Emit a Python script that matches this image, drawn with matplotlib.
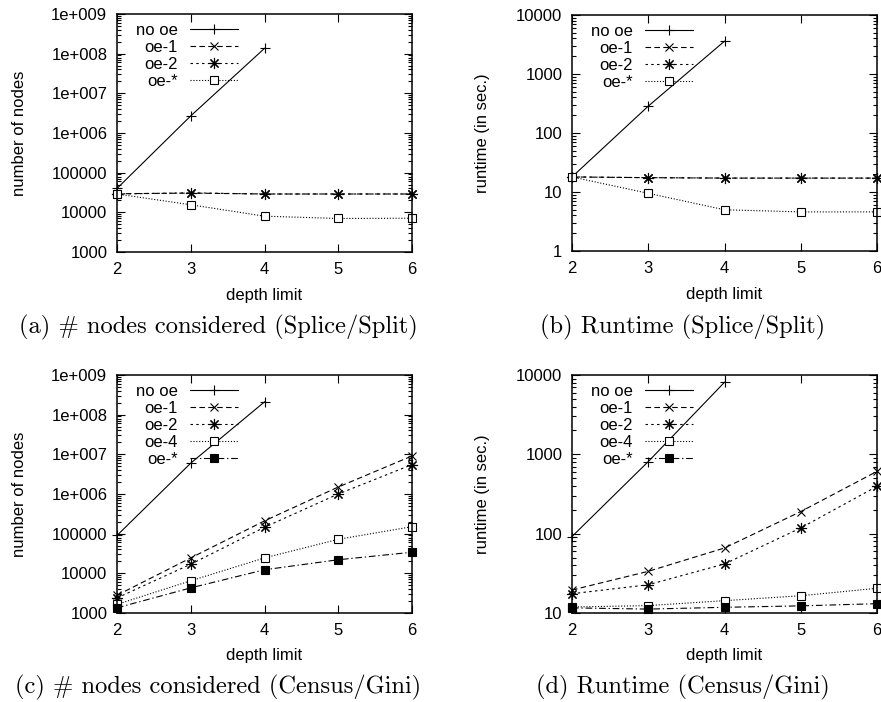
import matplotlib
matplotlib.use("Agg")
import matplotlib.pyplot as plt
from matplotlib.ticker import FixedLocator, FixedFormatter, LogLocator, NullFormatter

plt.rcParams['font.family'] = ['Liberation Sans', 'DejaVu Sans']
plt.rcParams['font.size'] = 12

depth = [2, 3, 4, 5, 6]

# (a) number of nodes, Splice/Split
a_no_oe = [40000, 2.7e6, 1.36e8]
a_oe1 = [29500, 30500, 29000, 29000, 29000]
a_oe2 = [29000, 31000, 29000, 29000, 29000]
a_oestar = [29000, 15500, 8000, 7000, 7100]

# (b) runtime, Splice/Split
b_no_oe = [18, 285, 3600]
b_oe1 = [18, 17.5, 17.2, 17.2, 17.2]
b_oe2 = [18, 17.5, 17.2, 17.2, 17.2]
b_oestar = [18, 9.5, 5.0, 4.6, 4.6]

# (c) number of nodes, Census/Gini
c_no_oe = [90000, 6.0e6, 2.1e8]
c_oe1 = [2800, 24500, 2.1e5, 1.5e6, 9.1e6]
c_oe2 = [2400, 17000, 1.45e5, 1.0e6, 5.5e6]
c_oe4 = [1650, 6500, 24500, 72000, 150000]
c_oestar = [1350, 4300, 12300, 22000, 34000]

# (d) runtime, Census/Gini
d_no_oe = [92, 810, 8100]
d_oe1 = [19.5, 33.5, 66, 190, 610]
d_oe2 = [17.5, 22.7, 41.5, 118, 395]
d_oe4 = [11.9, 12.4, 14.3, 16.5, 20.5]
d_oestar = [11.6, 11.2, 11.8, 12.3, 13.1]

captions = ["(a) # nodes considered (Splice/Split)",
            "(b) Runtime (Splice/Split)",
            "(c) # nodes considered (Census/Gini)",
            "(d) Runtime (Census/Gini)"]

nodes_ticks = [1e3, 1e4, 1e5, 1e6, 1e7, 1e8, 1e9]
nodes_labels = ["1000", "10000", "100000", "1e+006", "1e+007", "1e+008", "1e+009"]
rt_ticks_b = [1, 10, 100, 1000, 10000]
rt_labels_b = ["1", "10", "100", "1000", "10000"]
rt_ticks_d = [10, 100, 1000, 10000]
rt_labels_d = ["10", "100", "1000", "10000"]

W, H = 881, 702
fig = plt.figure(figsize=(W / 100, H / 100), dpi=100)


def make_ax(left, right, top, bottom):
    return fig.add_axes([left / W, (H - bottom) / H, (right - left) / W, (bottom - top) / H])


lw = 0.8
black = 'black'
ls_oe1 = (0, (5, 3))
ls_oe2 = (0, (2.2, 3))
ls_dot = (0, (1, 1.6))
ls_dashdot = (0, (6, 2.5, 1.2, 2.5))
star = (8, 2, 0)

common = dict(color=black, lw=lw, clip_on=False, mew=0.8)


def style(ax, ticks, labels, ylim, ylabel, ylx, xly, caption, capx, capy, legx):
    ax.set_yscale('log')
    ax.set_xlim(2, 6)
    ax.set_ylim(*ylim)
    ax.set_xticks(depth)
    ax.set_xticklabels([str(d) for d in depth])
    ax.yaxis.set_major_locator(FixedLocator(ticks))
    ax.yaxis.set_major_formatter(FixedFormatter(labels))
    ax.yaxis.set_minor_locator(LogLocator(base=10, subs=range(2, 10), numticks=20))
    ax.yaxis.set_minor_formatter(NullFormatter())
    ax.tick_params(which='both', direction='in', top=True, right=True, width=0.8)
    ax.tick_params(which='major', length=6, pad=7)
    ax.tick_params(which='minor', length=3)
    for s in ax.spines.values():
        s.set_linewidth(1.1)
    ax.set_xlabel('depth limit')
    ax.xaxis.label.set_va('center')
    ax.xaxis.set_label_coords(0.5, xly)
    ax.set_ylabel(ylabel)
    ax.yaxis.label.set_va('center')
    ax.yaxis.set_label_coords(ylx, 0.5)
    ax.legend(loc='upper right', bbox_to_anchor=(legx, 0.962), frameon=False,
              markerfirst=False, numpoints=1, handlelength=2.9, handletextpad=0.72,
              labelspacing=0.12, borderpad=0, borderaxespad=0, fontsize=12)
    fig.text(capx / W, 1 - capy / H, caption, family='cmr10', fontsize=17.6,
             ha='center', va='center')


# (a)
ax = make_ax(117, 412, 14, 252)
ax.plot(depth[:3], a_no_oe, ls='-', marker='+', ms=7, label='no oe', **common)
ax.plot(depth, a_oe1, ls=ls_oe1, marker='x', ms=6, label='oe-1', **common)
ax.plot(depth, a_oe2, ls=ls_oe2, marker=star, ms=8, label='oe-2', **common)
ax.plot(depth, a_oestar, ls=ls_dot, marker='s', ms=6, mfc='white', label='oe-*', **common)
style(ax, nodes_ticks, nodes_labels, (1e3, 1e9), 'number of nodes', -0.332, -0.184,
      captions[0], 218, 327, 0.41)

# (b)
ax = make_ax(572, 877, 15, 251)
ax.plot(depth[:3], b_no_oe, ls='-', marker='+', ms=7, label='no oe', **common)
ax.plot(depth, b_oe1, ls=ls_oe1, marker='x', ms=6, label='oe-1', **common)
ax.plot(depth, b_oe2, ls=ls_oe2, marker=star, ms=8, label='oe-2', **common)
ax.plot(depth, b_oestar, ls=ls_dot, marker='s', ms=6, mfc='white', label='oe-*', **common)
style(ax, rt_ticks_b, rt_labels_b, (1, 1e4), 'runtime (in sec.)', -0.295, -0.186,
      captions[1], 683, 327, 0.397)

# (c)
ax = make_ax(117, 412, 375, 613)
ax.plot(depth[:3], c_no_oe, ls='-', marker='+', ms=7, label='no oe', **common)
ax.plot(depth, c_oe1, ls=ls_oe1, marker='x', ms=6, label='oe-1', **common)
ax.plot(depth, c_oe2, ls=ls_oe2, marker=star, ms=8, label='oe-2', **common)
ax.plot(depth, c_oe4, ls=ls_dot, marker='s', ms=6, mfc='white', label='oe-4', **common)
ax.plot(depth, c_oestar, ls=ls_dashdot, marker='s', ms=6, mfc=black, label='oe-*', **common)
style(ax, nodes_ticks, nodes_labels, (1e3, 1e9), 'number of nodes', -0.332, -0.18,
      captions[2], 218, 687, 0.41)

# (d)
ax = make_ax(572, 877, 375, 613)
ax.plot(depth[:3], d_no_oe, ls='-', marker='+', ms=7, label='no oe', **common)
ax.plot(depth, d_oe1, ls=ls_oe1, marker='x', ms=6, label='oe-1', **common)
ax.plot(depth, d_oe2, ls=ls_oe2, marker=star, ms=8, label='oe-2', **common)
ax.plot(depth, d_oe4, ls=ls_dot, marker='s', ms=6, mfc='white', label='oe-4', **common)
ax.plot(depth, d_oestar, ls=ls_dashdot, marker='s', ms=6, mfc=black, label='oe-*', **common)
style(ax, rt_ticks_d, rt_labels_d, (10, 1e4), 'runtime (in sec.)', -0.295, -0.18,
      captions[3], 683, 687, 0.397)

fig.savefig('out.png', dpi=100)
